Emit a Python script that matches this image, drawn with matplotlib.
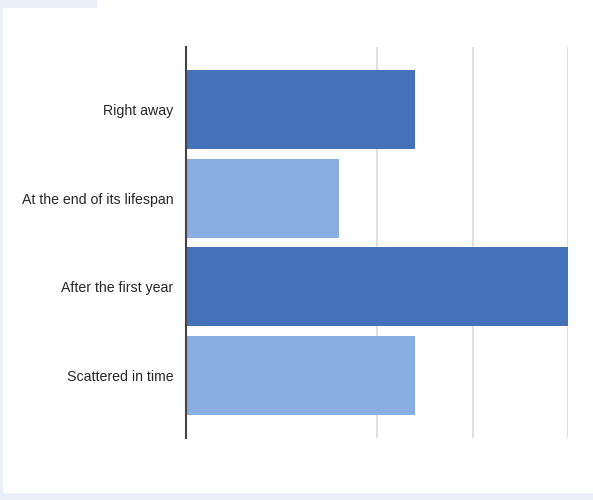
import matplotlib
matplotlib.use("Agg")
import matplotlib.pyplot as plt
from matplotlib.patches import Rectangle

categories = ["Right away", "At the end of its lifespan", "After the first year", "Scattered in time"]
values = [24, 16, 40, 24]
bar_colors = ["#4571b9", "#8aaee0", "#4571b9", "#8aaee0"]
grid_ticks = [20, 30, 40]

BG = "#e9eef8"

fig = plt.figure(figsize=(5.93, 5.0), dpi=100, facecolor=BG)

# white panel with a small lavender strip at top-left
fig.patches.append(Rectangle((3 / 593, 7 / 500), 1, 1, transform=fig.transFigure,
                             facecolor="white", edgecolor="none", zorder=-2))
fig.patches.append(Rectangle((0, 492 / 500), 97 / 593, 8 / 500, transform=fig.transFigure,
                             facecolor=BG, edgecolor="none", zorder=-1))

ax = fig.add_axes([186 / 593, 1 - 438 / 500, (568 - 186) / 593, (438 - 47) / 500])
ax.set_facecolor("none")
ax.set_zorder(1)

y = range(len(categories))
ax.barh(y, values, height=0.89, color=bar_colors, zorder=2)

ax.set_xlim(0, 40)
ax.set_ylim(3.7, -0.7)
ax.set_xticks(grid_ticks)
ax.set_xticklabels([])
ax.tick_params(axis="x", length=0)
ax.grid(axis="x", color="#e0e0e0", linewidth=1.5, zorder=0)
ax.set_axisbelow(True)

ax.set_yticks(list(y))
ax.set_yticklabels(categories, fontsize=10.2, color="#262626", family="Liberation Sans")
ax.tick_params(axis="y", length=0, pad=9)

for side in ["top", "right", "bottom"]:
    ax.spines[side].set_visible(False)
ax.spines["left"].set_color("#444444")
ax.spines["left"].set_linewidth(1.5)

fig.savefig("out.png", dpi=100, facecolor=BG)
